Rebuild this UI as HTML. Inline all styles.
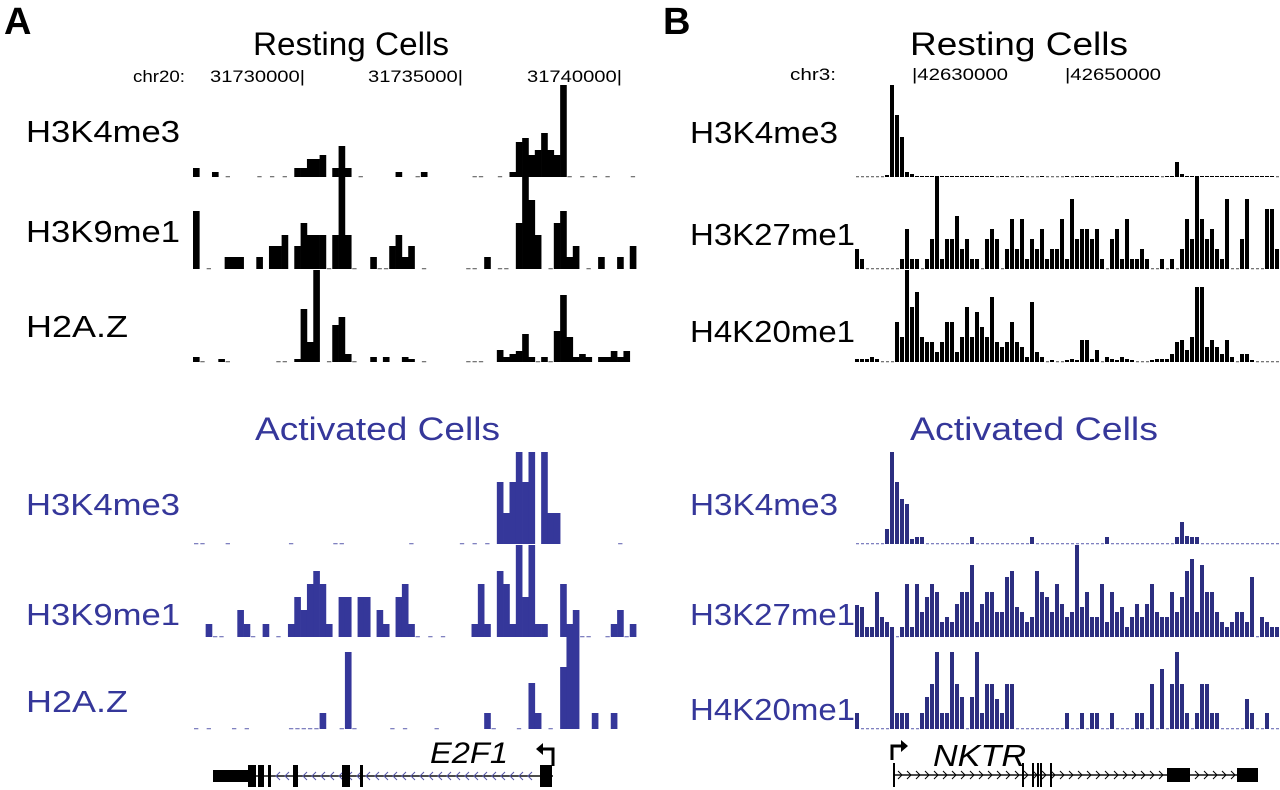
<!DOCTYPE html>
<html><head><meta charset="utf-8"><style>
html,body{margin:0;padding:0;background:#fff;}
svg{display:block;font-family:"Liberation Sans",Arial,sans-serif;}
</style></head><body>
<svg id="fig" width="1280" height="790" viewBox="0 0 1280 790" xmlns="http://www.w3.org/2000/svg">
<g>
<text x="4" y="34" font-size="38" font-weight="bold">A</text>
<text x="253" y="55" font-size="32" textLength="196" lengthAdjust="spacingAndGlyphs">Resting Cells</text>
<text x="133" y="82" font-size="17" textLength="52" lengthAdjust="spacingAndGlyphs">chr20:</text>
<text x="210" y="82" font-size="17" textLength="95" lengthAdjust="spacingAndGlyphs">31730000|</text>
<text x="368" y="82" font-size="17" textLength="95" lengthAdjust="spacingAndGlyphs">31735000|</text>
<text x="527" y="82" font-size="17" textLength="95" lengthAdjust="spacingAndGlyphs">31740000|</text>
<text x="26" y="142" font-size="31" textLength="154" lengthAdjust="spacingAndGlyphs">H3K4me3</text>
<text x="26" y="242" font-size="31" textLength="154" lengthAdjust="spacingAndGlyphs">H3K9me1</text>
<text x="26" y="337" font-size="31" textLength="102" lengthAdjust="spacingAndGlyphs">H2A.Z</text>
<g fill="#35379a">
<text x="255" y="440" font-size="32" textLength="245" lengthAdjust="spacingAndGlyphs">Activated Cells</text>
<text x="26" y="515" font-size="31" textLength="154" lengthAdjust="spacingAndGlyphs">H3K4me3</text>
<text x="26" y="625" font-size="31" textLength="154" lengthAdjust="spacingAndGlyphs">H3K9me1</text>
<text x="26" y="712" font-size="31" textLength="102" lengthAdjust="spacingAndGlyphs">H2A.Z</text>
</g>
</g>
<g>
<text x="663" y="34" font-size="38" font-weight="bold">B</text>
<text x="910" y="55" font-size="32" textLength="218" lengthAdjust="spacingAndGlyphs">Resting Cells</text>
<text x="790" y="80" font-size="17" textLength="46" lengthAdjust="spacingAndGlyphs">chr3:</text>
<text x="912" y="80" font-size="17" textLength="96" lengthAdjust="spacingAndGlyphs">|42630000</text>
<text x="1065" y="80" font-size="17" textLength="96" lengthAdjust="spacingAndGlyphs">|42650000</text>
<text x="690" y="143" font-size="31" textLength="148" lengthAdjust="spacingAndGlyphs">H3K4me3</text>
<text x="690" y="245" font-size="31" textLength="165" lengthAdjust="spacingAndGlyphs">H3K27me1</text>
<text x="690" y="342" font-size="31" textLength="165" lengthAdjust="spacingAndGlyphs">H4K20me1</text>
<g fill="#35379a">
<text x="910" y="440" font-size="32" textLength="248" lengthAdjust="spacingAndGlyphs">Activated Cells</text>
<text x="690" y="515" font-size="31" textLength="148" lengthAdjust="spacingAndGlyphs">H3K4me3</text>
<text x="690" y="625" font-size="31" textLength="165" lengthAdjust="spacingAndGlyphs">H3K27me1</text>
<text x="690" y="720" font-size="31" textLength="165" lengthAdjust="spacingAndGlyphs">H4K20me1</text>
</g>
</g>
<g id="tracks"></g>
<g id="genes">
<text x="430" y="763" font-size="30" font-style="italic" textLength="78" lengthAdjust="spacingAndGlyphs">E2F1</text>
<text x="933" y="766" font-size="31" font-style="italic" textLength="93" lengthAdjust="spacingAndGlyphs">NKTR</text>
<path d="M553 766 V749 H541" fill="none" stroke="#000" stroke-width="3"/>
<path d="M536 749 L543 743 L543 755 Z" fill="#000"/>
<path d="M892 760 V746 H902" fill="none" stroke="#000" stroke-width="3"/>
<path d="M908 746 L901 740 L901 752 Z" fill="#000"/>
</g>
</svg>
<script>
// ---- Panel A data (bin values, 0 = baseline, null = no data; max = 92) ----
const restK4A = [9,null,null,5,null,0,null,null,null,null, 0,null,0,null,0,null,9,9,18,18, 22,null,9,31,9,null,0,null,null,null, null,null,5,null,null,0,5,null,null,null, null,null,null,null,0,0,null,null,0,null, 5,35,39,22,27,44,27,22,92,0, null,0,null,0,null,0,null,null,null,0];
const restK9A = [58,null,0,null,null,12,12,12,null,null, 12,null,23,23,34,null,23,46,34,34, 34,0,34,92,34,0,null,null,12,0, 0,23,34,12,23,null,0,null,null,null, null,null,null,0,0,null,12,null,0,0, null,46,92,69,34,null,0,46,58,12, 23,null,0,null,12,null,null,12,null,23];
const restH2A = [5,0,null,null,3,0,null,null,null,null, null,null,null,0,0,null,3,53,20,92, null,0,37,45,8,0,null,null,5,null, 5,null,null,5,3,null,0,null,null,null, null,null,null,0,0,0,null,null,12,5, 8,11,28,5,0,5,0,31,67,25, 5,8,5,null,5,5,11,5,11,null];
const actK4A = [0,0,null,null,null,0,null,null,null,null, null,null,null,null,null,0,null,null,null,null, null,null,0,0,null,null,null,null,null,null, null,null,null,null,0,null,null,null,null,null, null,null,0,null,0,null,0,null,62,31, 62,92,62,92,null,92,31,31,null,null, null,null,null,null,null,null,null,0,null,null];
const actK9A = [null,null,13,0,0,null,null,27,13,0, null,13,null,0,null,13,40,27,53,66, 53,13,null,40,40,null,40,40,null,27, 13,null,40,53,13,0,null,0,null,0, null,null,null,null,13,53,13,null,66,53, 13,92,40,92,13,13,null,null,53,13, 27,0,0,null,null,0,13,27,0,13];
const actH2A = [0,null,0,null,null,null,0,null,0,null, null,null,null,null,null,0,0,0,0,0, 16,null,null,0,77,0,null,null,null,null, null,0,null,0,null,null,null,null,0,null, null,null,null,null,null,null,16,0,null,null, null,0,null,46,16,null,0,null,62,92, 92,null,null,16,null,null,16,null,null,null];
// ---- Panel B data ----
const restK4B = [0,0,0,0,0,0,2,92,62,40, 5,3,1,1,1,1,1,1,1,1, 1,1,1,1,1,1,1,1,0,1, 1,0,0,1,0,0,0,1,0,0, 0,0,1,0,1,1,1,0,1,1, 1,1,0,1,1,1,1,1,1,1, 1,0,1,1,15,3,1,1,1,1, 1,1,1,1,1,1,1,1,1,1, 1,1,1,1,0];
const restK27B = [20,10,0,0,0,0,0,0,0,10, 40,10,10,0,10,30,92,10,30,30, 53,20,30,10,10,0,30,40,30,0, 20,50,20,50,10,30,20,40,10,20, 20,50,10,70,30,40,40,30,40,10, 0,30,40,10,50,10,10,20,10,0, 0,10,0,10,0,20,50,30,92,50, 30,40,20,10,70,0,0,30,70,0, 0,0,60,60,20];
const restH4B = [3,3,3,5,3,0,0,0,40,25, 92,55,70,25,20,20,10,20,40,40, 10,25,55,25,50,35,25,65,20,15, 20,40,20,15,5,60,10,5,0,2, 0,0,2,3,2,22,22,3,12,0, 5,3,2,5,3,2,0,0,0,2, 3,3,3,8,20,22,12,25,75,75, 15,22,15,8,22,5,0,8,8,2, 0,0,0,0,0];
const actK4B = [0,0,0,0,0,0,15,92,62,45, 40,5,7,7,0,0,0,0,0,0, 0,0,0,7,0,0,0,0,0,0, 0,0,0,0,0,7,0,0,0,0, 0,0,0,0,0,0,0,0,0,0, 7,0,0,0,0,0,0,0,0,0, 0,0,0,0,7,22,8,7,7,0, 0,0,0,0,0,0,0,0,0,0, 0,0,0,0,0];
const actK27B = [32,30,10,10,45,20,15,10,0,10, 53,10,53,25,40,53,45,15,20,15, 33,45,45,72,15,33,45,45,25,25, 60,66,30,25,15,20,66,45,40,25, 53,33,20,25,92,30,45,20,20,53, 15,45,25,30,10,20,33,20,33,53, 25,20,20,45,25,40,66,78,25,72, 45,45,25,15,10,15,25,25,15,60, 0,20,15,10,10];
const actH4B = [16,0,0,0,0,0,0,92,16,16, 16,0,0,16,32,45,77,16,16,77, 45,32,0,32,77,16,45,45,30,16, 45,45,0,0,0,0,0,0,0,0, 0,0,16,0,0,16,0,16,16,0, 0,16,0,0,0,0,16,16,0,45, 0,60,0,45,77,45,16,0,16,45, 45,16,16,0,0,0,0,0,30,16, 0,0,16,0,0];

const NS = 'http://www.w3.org/2000/svg';
const BLUE = '#35379a';
const MAXV = 92, TRACKH = 92;
const g = document.getElementById('tracks');
function yScale(base, v){ return base - v / MAXV * TRACKH; }

function drawTrack(vals, x0, bw, base, color, dashColor, name, gap){
  const grp = document.createElementNS(NS, 'g');
  
  
  g.appendChild(grp);
  vals.forEach(function(v, i){
    if (v === null) return;
    const x = x0 + i * bw;
    if (v === 0) {
      const d = document.createElementNS(NS, 'rect');
      d.setAttribute('x', x + 1);
      d.setAttribute('y', base - 1);
      d.setAttribute('width', Math.max(bw - 2, 2));
      d.setAttribute('height', 1.3);
      d.setAttribute('fill', dashColor);
      
      
      grp.appendChild(d);
      return;
    }
    const y = yScale(base, v);
    const r = document.createElementNS(NS, 'rect');
    r.setAttribute('x', x);
    r.setAttribute('y', y);
    r.setAttribute('width', bw - gap + 0.3);
    r.setAttribute('height', base - y);
    r.setAttribute('fill', color);
    
    
    grp.appendChild(r);
  });
}
const AX = 193, ABW = 6.33, BX = 855, BBW = 5;
drawTrack(restK4A, AX, ABW, 177, '#000', '#777', 'track-h3k4me3-rest-a', 0);
drawTrack(restK9A, AX, ABW, 269, '#000', '#777', 'track-h3k9me1-rest-a', 0);
drawTrack(restH2A, AX, ABW, 362, '#000', '#777', 'track-h2az-rest-a', 0);
drawTrack(actK4A, AX, ABW, 544, BLUE, '#8081c0', 'track-h3k4me3-act-a', 0);
drawTrack(actK9A, AX, ABW, 637, BLUE, '#8081c0', 'track-h3k9me1-act-a', 0);
drawTrack(actH2A, AX, ABW, 729, BLUE, '#8081c0', 'track-h2az-act-a', 0);
drawTrack(restK4B, BX, BBW, 177, '#000', '#777', 'track-h3k4me3-rest-b', 1.3);
drawTrack(restK27B, BX, BBW, 269, '#000', '#777', 'track-h3k27me1-rest-b', 1.3);
drawTrack(restH4B, BX, BBW, 362, '#000', '#777', 'track-h4k20me1-rest-b', 1.3);
drawTrack(actK4B, BX, BBW, 544, '#2c2e80', '#8081c0', 'track-h3k4me3-act-b', 1.3);
drawTrack(actK27B, BX, BBW, 637, '#2c2e80', '#8081c0', 'track-h3k27me1-act-b', 1.3);
drawTrack(actH4B, BX, BBW, 729, '#2c2e80', '#8081c0', 'track-h4k20me1-act-b', 1.3);

// ---- gene models ----
const genes = document.getElementById('genes');
function rect(x, y, w, h, fill, name){
  const r = document.createElementNS(NS, 'rect');
  r.setAttribute('x', x); r.setAttribute('y', y);
  r.setAttribute('width', w); r.setAttribute('height', h);
  r.setAttribute('fill', fill);
  
  
  genes.appendChild(r);
}
function pathEl(d, stroke, name){
  const p = document.createElementNS(NS, 'path');
  p.setAttribute('d', d);
  p.setAttribute('fill', 'none');
  p.setAttribute('stroke', stroke);
  p.setAttribute('stroke-width', '1');
  
  
  genes.appendChild(p);
}
// E2F1
const e2f1Exons = [[213,248,12],[248,256,22],[258,264,22],[268,271,22],[293,298,22],[342,350,22],[360,363,22],[540,552,22]];
const e2f1Y = 776;
rect(213, e2f1Y - 0.7, 340, 1.4, '#000', 'intron-line-e2f1');
let chev = '';
for (let x = 276; x < 536; x += 9) chev += 'M' + (x + 4) + ' ' + (e2f1Y - 4) + ' L' + x + ' ' + e2f1Y + ' L' + (x + 4) + ' ' + (e2f1Y + 4) + ' ';
pathEl(chev, '#5556a8', 'strand-chevrons-e2f1');
e2f1Exons.forEach(function(e){ rect(e[0], e2f1Y - e[2] / 2, e[1] - e[0], e[2], '#000', 'exon-e2f1'); });
// NKTR
const nktrY = 775;
rect(893, nktrY - 0.7, 365, 1.4, '#000', 'intron-line-nktr');
let chev2 = '';
for (let x = 898; x < 1236; x += 9) { if (x > 1163 && x < 1192) continue; chev2 += 'M' + x + ' ' + (nktrY - 4) + ' L' + (x + 4) + ' ' + nktrY + ' L' + x + ' ' + (nktrY + 4) + ' '; }
pathEl(chev2, '#000', 'strand-chevrons-nktr');
const nktrThin = [893, 1022, 1032, 1037, 1040, 1050];
nktrThin.forEach(function(x){ rect(x, nktrY - 12, 2, 24, '#000', 'exon-nktr'); });
rect(1167, nktrY - 7, 23, 14, '#000', 'exon-nktr');
rect(1237, nktrY - 7, 21, 14, '#000', 'exon-nktr');
</script>
</body></html>
